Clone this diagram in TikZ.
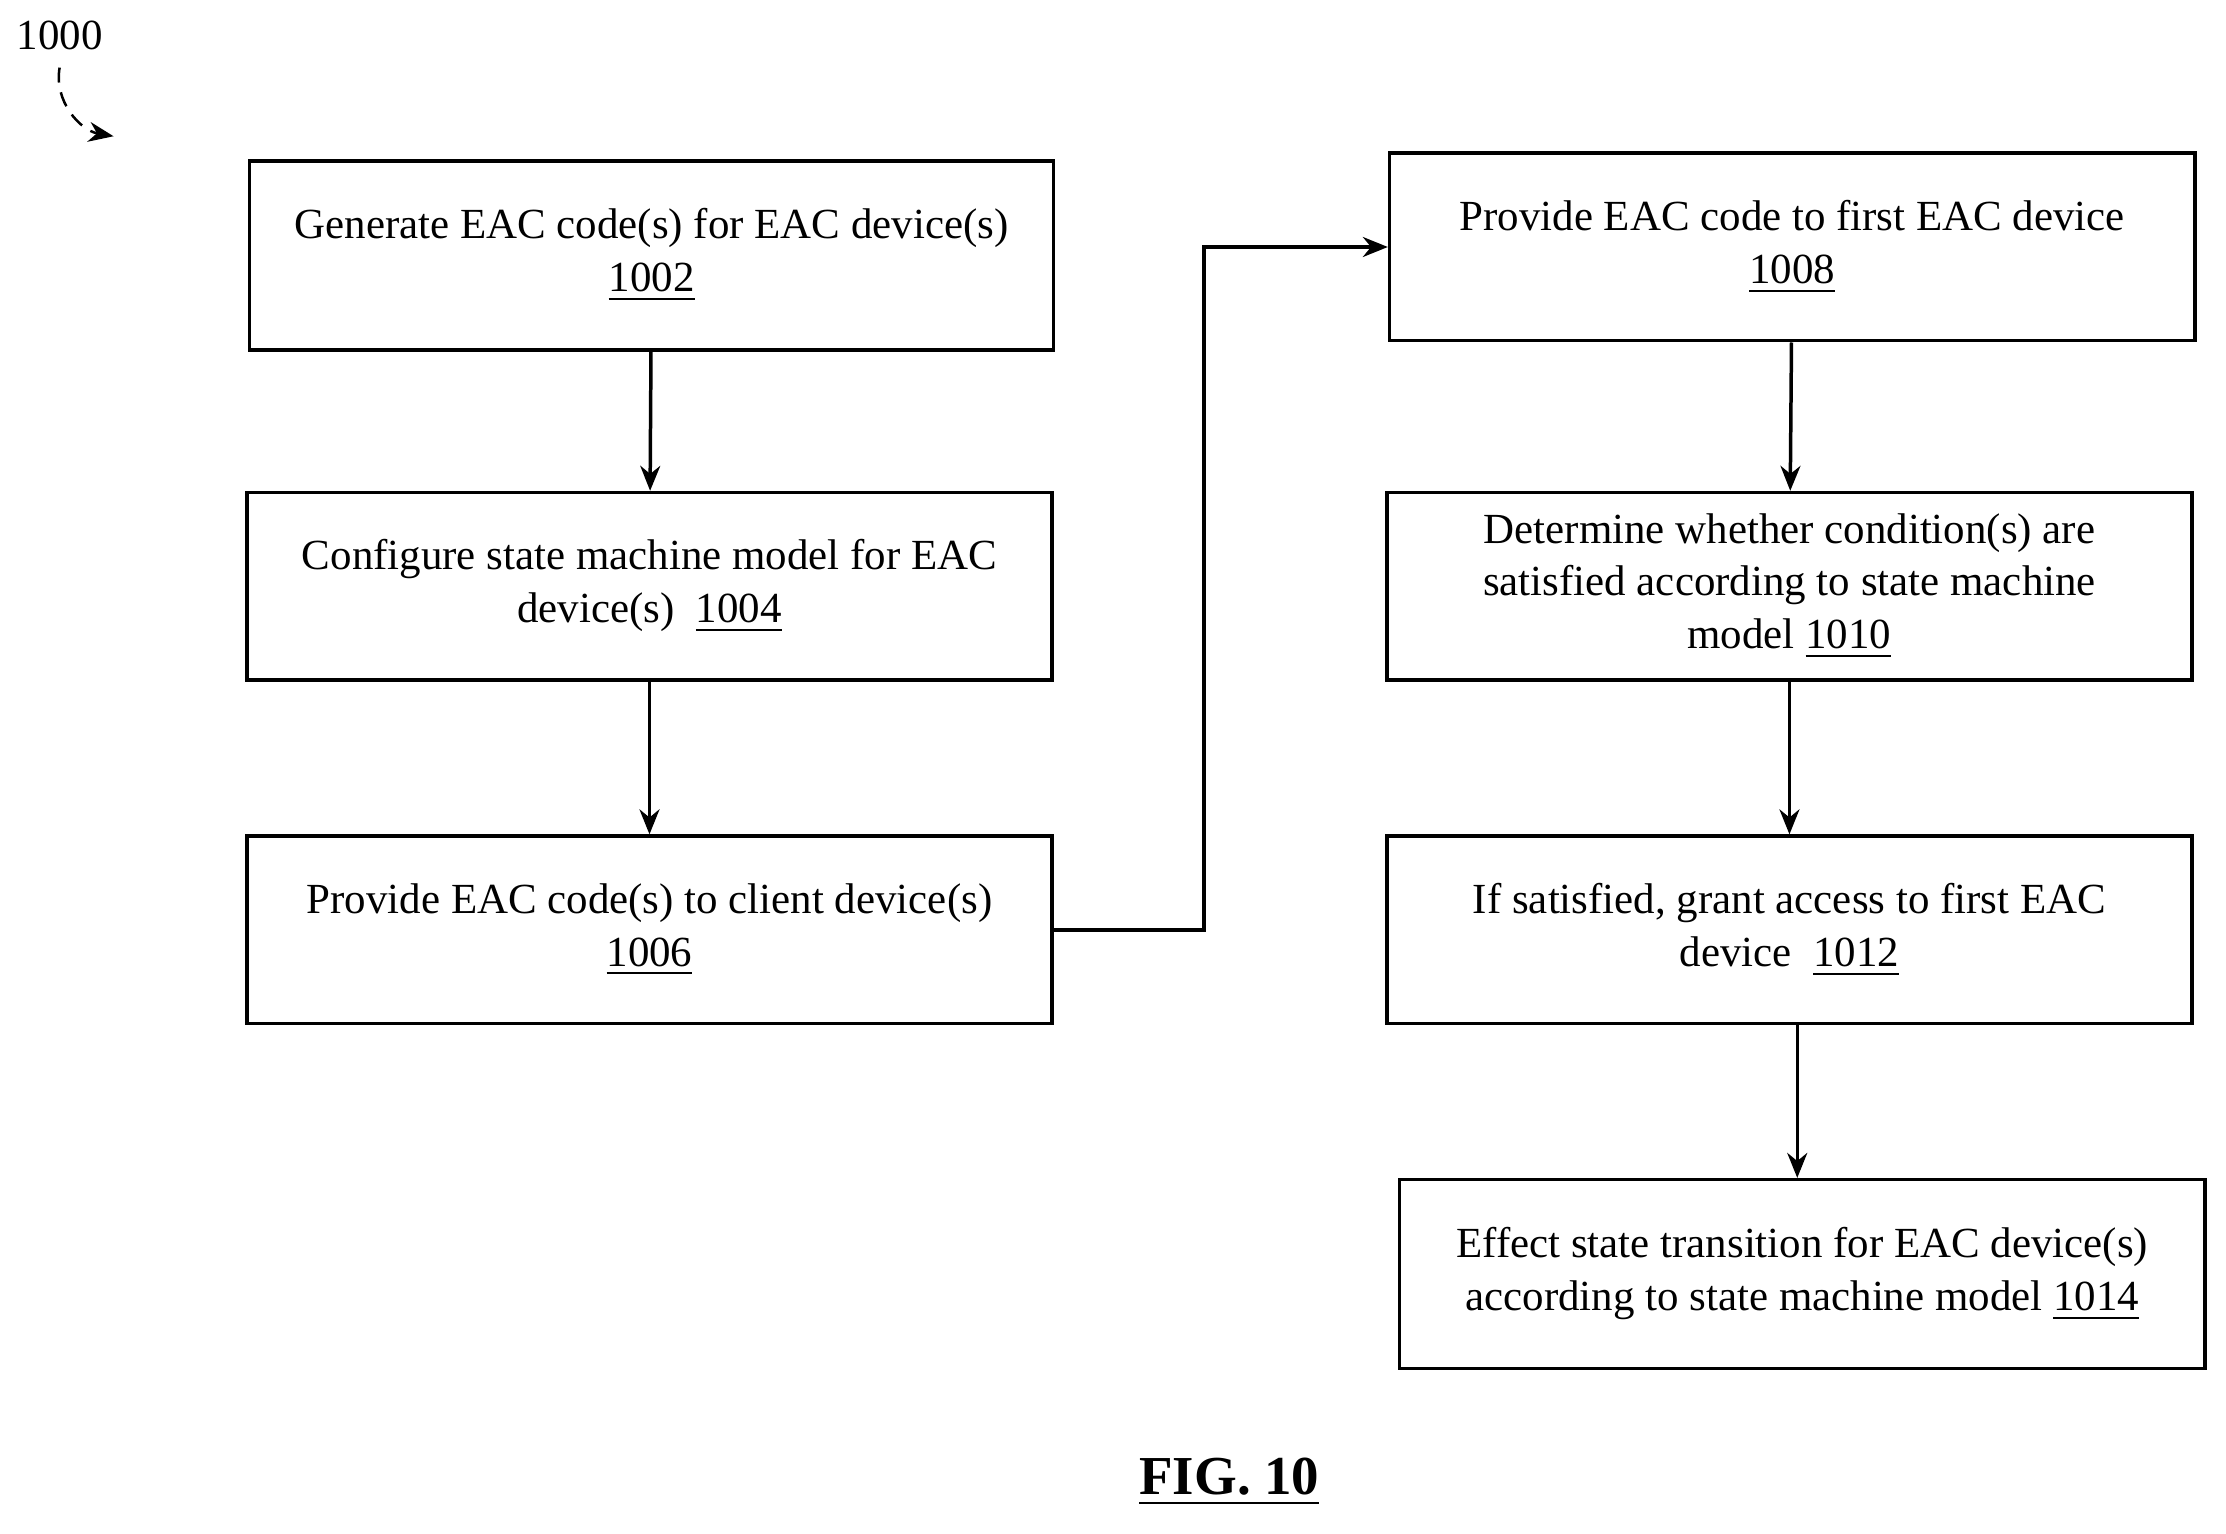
\documentclass[tikz,border=0pt]{standalone}
\usepackage{fontspec}
\setmainfont{Liberation Serif}
\usetikzlibrary{arrows.meta}
\begin{document}
\begin{tikzpicture}[x=0.01cm,y=-0.01cm,
 box/.style={draw,line width=0.7pt,align=center,font=\fontsize{8.6}{10.6}\selectfont,inner sep=0pt},
 arr/.style={-{Stealth[length=5pt,width=4pt]},line width=0.7pt}]
\useasboundingbox (0,0) rectangle (1568,1080);
\node[box,minimum width=566\pgflinewidth*0+5.66cm,minimum height=1.33cm] (b1002) at (459,180) {Generate EAC code(s) for EAC device(s)\\\underline{1002}};
\node[box,minimum width=5.67cm,minimum height=1.32cm] (b1004) at (457.5,413) {Configure state machine model for EAC\\device(s)\ \ \underline{1004}};
\node[box,minimum width=5.67cm,minimum height=1.32cm] (b1006) at (457.5,655) {Provide EAC code(s) to client device(s)\\\underline{1006}};
\node[box,minimum width=5.67cm,minimum height=1.32cm] (b1008) at (1262.5,174) {Provide EAC code to first EAC device\\\underline{1008}};
\node[box,minimum width=5.67cm,minimum height=1.32cm] (b1010) at (1260.5,413) {Determine whether condition(s) are\\satisfied according to state machine\\model \underline{1010}};
\node[box,minimum width=5.67cm,minimum height=1.32cm] (b1012) at (1260.5,655) {If satisfied, grant access to first EAC\\device\ \ \underline{1012}};
\node[box,minimum width=5.67cm,minimum height=1.33cm] (b1014) at (1269.5,897.5) {Effect state transition for EAC device(s)\\according to state machine model \underline{1014}};
\draw[arr] (b1002) -- (b1004);
\draw[arr] (b1004) -- (b1006);
\draw[arr] (b1006.east) -- (848,655) |- (b1008.west);
\draw[arr] (b1008) -- (b1010);
\draw[arr] (b1010) -- (b1012);
\draw[arr] (b1012.south -| 1266,0) -- (b1014.north -| 1266,0);
\node[font=\fontsize{8.6}{10}\selectfont] (lbl) at (42,25) {1000};
\coordinate (tip) at (80,96);
\draw[densely dashed,line width=0.5pt,-{Stealth[length=5pt,width=4pt]}] (lbl.south) to[out=-100,in=170] (tip);
\node[font=\bfseries\fontsize{11}{13}\selectfont] (fig) at (866,1044) {\underline{FIG. 10}};
\end{tikzpicture}
\end{document}
